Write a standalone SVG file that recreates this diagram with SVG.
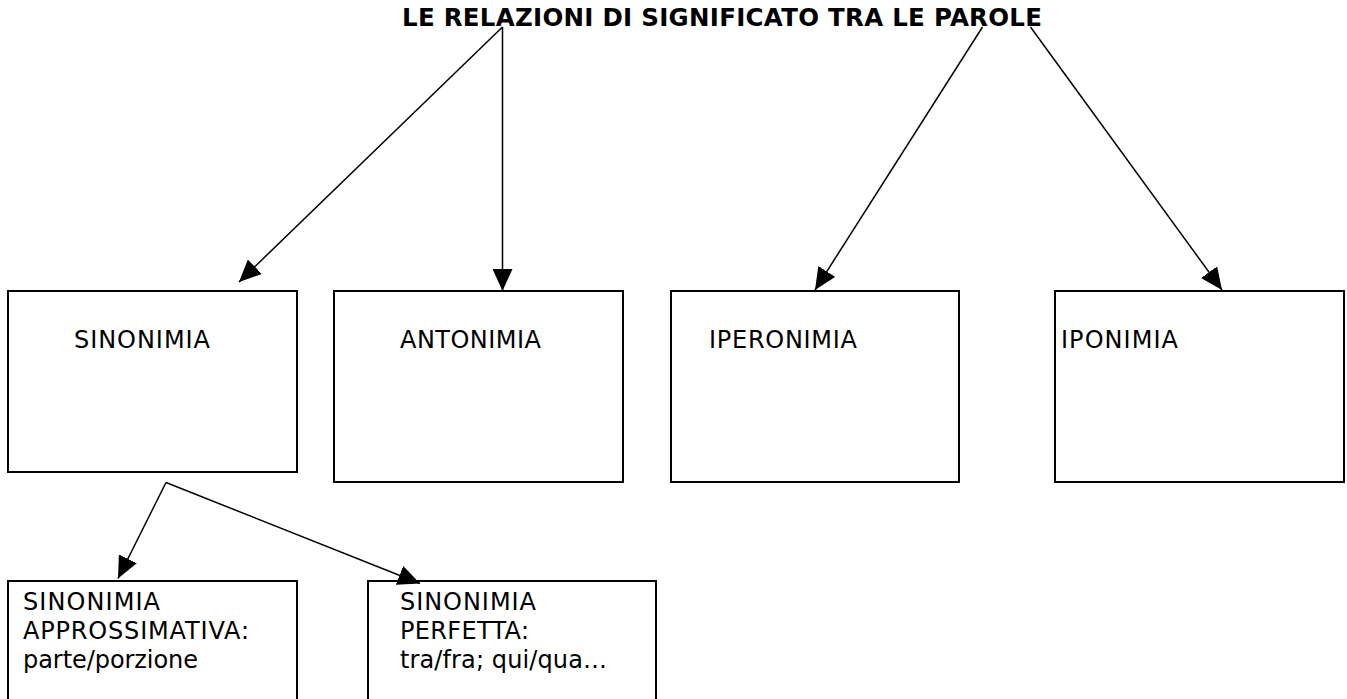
<svg xmlns="http://www.w3.org/2000/svg" width="1347" height="699" viewBox="0 0 1347 699">
<style>
.box{fill:#fff;stroke:#000;stroke-width:2}
.t{font-family:"DejaVu Sans","Liberation Sans",sans-serif;font-size:24px;fill:#000}
.title{font-family:"DejaVu Sans","Liberation Sans",sans-serif;font-size:24.5px;font-weight:bold;fill:#000}
.c{fill:none;stroke:#000;stroke-width:1.5}
</style>
<defs>
<marker id="ah" markerUnits="userSpaceOnUse" markerWidth="22" markerHeight="20" refX="22" refY="10" orient="auto" viewBox="0 0 22 20">
<path d="M0,0 L22,10 L0,20 z" fill="#000"/>
</marker>
</defs>
<rect width="1347" height="699" fill="#fff"/>
<g id="title">
<text class="title" x="402" y="26" textLength="640" lengthAdjust="spacing">LE RELAZIONI DI SIGNIFICATO TRA LE PAROLE</text>
</g>
<g id="sinonimia">
<rect class="box" x="8" y="291" width="289" height="181"/>
<text class="t" x="74" y="348" textLength="136" lengthAdjust="spacing">SINONIMIA</text>
</g>
<g id="antonimia">
<rect class="box" x="334" y="291" width="289" height="191"/>
<text class="t" x="400" y="348" textLength="141" lengthAdjust="spacing">ANTONIMIA</text>
</g>
<g id="iperonimia">
<rect class="box" x="671" y="291" width="288" height="191"/>
<text class="t" x="709" y="348" textLength="148" lengthAdjust="spacing">IPERONIMIA</text>
</g>
<g id="iponimia">
<rect class="box" x="1055" y="291" width="289" height="191"/>
<text class="t" x="1061" y="348" textLength="117" lengthAdjust="spacing">IPONIMIA</text>
</g>
<g id="sin-approssimativa">
<rect class="box" x="8" y="581" width="289" height="140"/>
<text class="t" x="23" y="610" textLength="137" lengthAdjust="spacing">SINONIMIA</text>
<text class="t" x="23" y="638.8" textLength="226" lengthAdjust="spacing">APPROSSIMATIVA:</text>
<text class="t" x="23" y="667.6" textLength="175" lengthAdjust="spacing">parte/porzione</text>
</g>
<g id="sin-perfetta">
<rect class="box" x="368" y="581" width="288" height="140"/>
<text class="t" x="400" y="610" textLength="136" lengthAdjust="spacing">SINONIMIA</text>
<text class="t" x="400" y="638.8" textLength="129" lengthAdjust="spacing">PERFETTA:</text>
<text class="t" x="400" y="667.6" textLength="207" lengthAdjust="spacing">tra/fra; qui/qua…</text>
</g>
<g id="connectors">
<line class="c" x1="502.5" y1="27" x2="239" y2="282" marker-end="url(#ah)"/>
<line class="c" x1="502.5" y1="27" x2="502.5" y2="291" marker-end="url(#ah)"/>
<line class="c" x1="982.5" y1="27" x2="815" y2="290" marker-end="url(#ah)"/>
<line class="c" x1="1030.5" y1="27" x2="1222" y2="290" marker-end="url(#ah)"/>
<line class="c" x1="166" y1="482.5" x2="118" y2="578.5" marker-end="url(#ah)"/>
<line class="c" x1="166" y1="482.5" x2="420" y2="583.5" marker-end="url(#ah)"/>
</g>
</svg>
